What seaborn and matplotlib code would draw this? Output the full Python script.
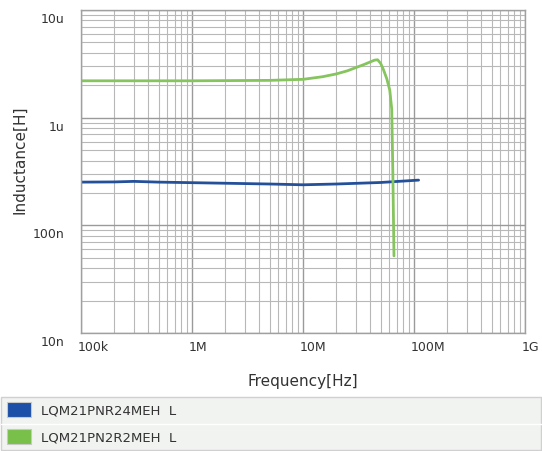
import numpy as np
import pandas as pd
import matplotlib
matplotlib.use("Agg")
import matplotlib.pyplot as plt
import matplotlib.ticker as mticker
import matplotlib.transforms as mtrans
from matplotlib.patches import Rectangle
import seaborn as sns

# ---- data ----
series_names = ["LQM21PNR24MEH  L", "LQM21PN2R2MEH  L"]

freq_blue = [1e5, 2e5, 3e5, 5e5, 1e6, 2e6, 5e6, 1e7, 2e7, 5e7, 1.1e8]
ind_blue = [0.252e-6, 0.253e-6, 0.256e-6, 0.252e-6, 0.249e-6, 0.246e-6, 0.242e-6, 0.238e-6, 0.242e-6, 0.25e-6, 0.263e-6]

freq_green = [1e5, 1e6, 5e6, 1e7, 1.5e7, 2e7, 2.5e7, 3e7, 3.5e7, 4e7, 4.4e7, 4.7e7,
              5e7, 5.3e7, 5.7e7, 6.05e7, 6.3e7, 6.45e7, 6.6e7]
ind_green = [2.2e-6, 2.2e-6, 2.22e-6, 2.27e-6, 2.4e-6, 2.55e-6, 2.72e-6, 2.92e-6, 3.1e-6,
             3.28e-6, 3.42e-6, 3.45e-6, 3.2e-6, 2.8e-6, 2.28e-6, 1.8e-6, 1.2e-6, 0.3e-6, 0.052e-6]

x_ticks = [1e5, 1e6, 1e7, 1e8, 1e9]
x_labels = ["100k", "1M", "10M", "100M", "1G"]
y_ticks = [1e-8, 1e-7, 1e-6, 1e-5]
y_labels = ["10n", "100n", "1u", "10u"]

colors = ["#24509a", "#86c45e"]
legend_colors = ["#1c4fa8", "#78c04a"]

df = pd.concat([
    pd.DataFrame({"freq": freq_blue, "L": ind_blue, "series": series_names[0]}),
    pd.DataFrame({"freq": freq_green, "L": ind_green, "series": series_names[1]}),
])

sns.set_style("white")
plt.rcParams["font.family"] = ["DejaVu Sans"]

fig = plt.figure(figsize=(5.42, 4.52), dpi=100)
ax = fig.add_axes([81/542, 1-334/452, 444/542, 323/452])

sns.lineplot(data=df, x="freq", y="L", hue="series", palette=colors,
             estimator=None, sort=False, linewidth=2.0, legend=False, ax=ax)

ax.set_xscale("log")
ax.set_yscale("log")
ax.set_xlim(1e5, 1e9)
ax.set_ylim(1e-8, 1e-5)

ax.xaxis.set_major_locator(mticker.FixedLocator(x_ticks))
ax.xaxis.set_major_formatter(mticker.FixedFormatter(x_labels))
ax.yaxis.set_major_locator(mticker.FixedLocator(y_ticks))
ax.yaxis.set_major_formatter(mticker.FixedFormatter(y_labels))
ax.xaxis.set_minor_locator(mticker.LogLocator(base=10, subs=np.arange(2, 10), numticks=20))
ax.yaxis.set_minor_locator(mticker.LogLocator(base=10, subs=np.arange(2, 10), numticks=20))
ax.xaxis.set_minor_formatter(mticker.NullFormatter())
ax.yaxis.set_minor_formatter(mticker.NullFormatter())

ax.grid(which="major", color="#9a9a9a", linewidth=1.0)
ax.grid(which="minor", color="#b8b8b8", linewidth=0.8)
ax.set_axisbelow(True)
for s in ax.spines.values():
    s.set_color("#a0a0a0")
    s.set_linewidth(1.0)

ax.tick_params(which="both", length=0)
ax.tick_params(axis="x", pad=5, labelsize=9, labelcolor="#333333")
ax.tick_params(axis="y", pad=12, labelsize=9, labelcolor="#333333")
for lab in ax.get_xticklabels():
    lab.set_horizontalalignment("left")
    lab.set_transform(lab.get_transform() + mtrans.ScaledTranslation(-3/100, 0, fig.dpi_scale_trans))
for lab in ax.get_yticklabels():
    lab.set_transform(lab.get_transform() + mtrans.ScaledTranslation(0, -7/100, fig.dpi_scale_trans))

ax.set_xlabel("Frequency[Hz]", fontsize=11, color="#333333")
ax.set_ylabel("Inductance[H]", fontsize=11, color="#333333")
ax.xaxis.set_label_coords(0.5, -0.125)
ax.yaxis.set_label_coords(-0.12, 0.54)

# ---- legend panel ----
W, H = 542, 452
def fx(px):
    return px / W
def fy(py):
    return 1 - py / H

fig.patches.append(Rectangle((fx(1), fy(451)), fx(540), (451-398)/H, transform=fig.transFigure,
                             facecolor="#f1f3f1", edgecolor="#d0d0d0", linewidth=1.0))
fig.lines.append(plt.Line2D([fx(1), fx(541)], [fy(424.5), fy(424.5)], transform=fig.transFigure,
                            color="#ffffff", linewidth=1.0))
row_y = [411, 438]
for name, c, ry in zip(series_names, legend_colors, row_y):
    fig.patches.append(Rectangle((fx(7), fy(ry + 7)), 24/W, 15/H, transform=fig.transFigure,
                                 facecolor=c, edgecolor="#c8c8c8", linewidth=0.8))
    fig.text(fx(41), fy(ry), name, fontsize=9.5, color="#333333", va="center", ha="left")

fig.savefig("out.png", dpi=100, facecolor="white")
